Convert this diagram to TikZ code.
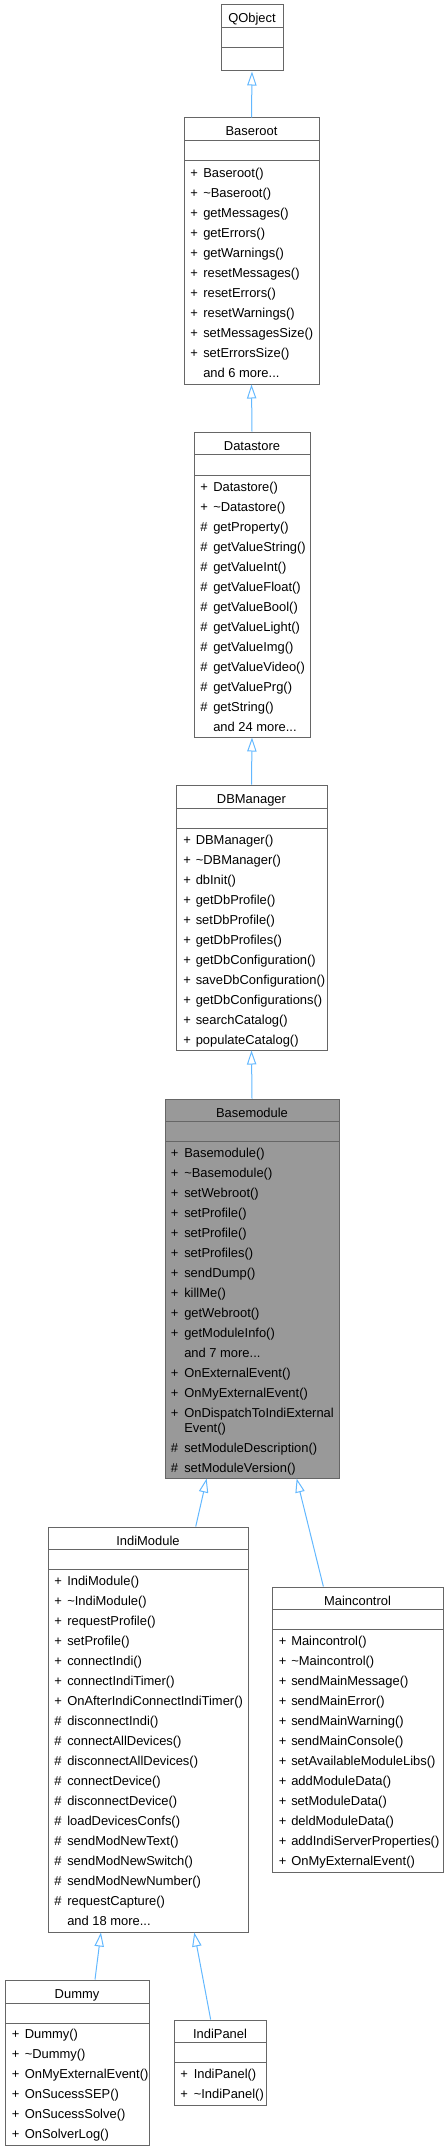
\documentclass[tikz,border=0pt]{standalone}
\usepackage{fontspec}
\setmainfont{Liberation Sans}
\usepackage{tikz}
\usetikzlibrary{fit,arrows.meta}

\definecolor{boxgray}{HTML}{666666}
\definecolor{basegray}{HTML}{999999}
\definecolor{arrowblue}{HTML}{63B8FF}
\newcommand{\andmore}[1]{and #1 more...}

\begin{document}
\begin{tikzpicture}[x=0.75pt, y=-0.75pt,
    font=\fontsize{9.7}{11.6}\selectfont,
    classbox/.style={draw=boxgray, line width=0.75pt, fill=white, inner sep=0pt},
    basebox/.style={classbox, fill=basegray},
    sepline/.style={draw=boxgray, line width=0.75pt},
    classtitle/.style={anchor=base, inner sep=0pt},
    membertext/.style={anchor=base west, inner sep=0pt},
    inherit/.style={draw=arrowblue, line width=0.75pt,
                    -{Triangle[open, length=10.5pt, width=7pt]}}]

  \useasboundingbox (0,0) rectangle (448,2151);

  %--- QObject
  \node[classbox, fit={(221,5) (283,71)}] (qobject) {};
  \draw[sepline] (221,28) -- (283,28);
  \draw[sepline] (221,48) -- (283,48);
  \node[classtitle] (qobject-t) at (252,23) {QObject};

  %--- Baseroot
  \node[classbox, fit={(184,118) (319,384)}] (baseroot) {};
  \draw[sepline] (184,141) -- (319,141);
  \draw[sepline] (184,161) -- (319,161);
  \node[classtitle] (baseroot-t) at (251.5,136) {Baseroot};
  \foreach \s/\m [count=\i from 0] in {+/Baseroot(), +/\textasciitilde Baseroot(),
      +/getMessages(), +/getErrors(), +/getWarnings(), +/resetMessages(),
      +/resetErrors(), +/resetWarnings(), +/setMessagesSize(), +/setErrorsSize(),
      {}/\andmore{6}} {
    \node[membertext] (baseroot-s\i) at (190,{177.5+20*\i}) {\s};
    \node[membertext] (baseroot-m\i) at (203,{177.5+20*\i}) {\m};
  }

  %--- Datastore
  \node[classbox, fit={(194,432) (310,737)}] (datastore) {};
  \draw[sepline] (194,454) -- (310,454);
  \draw[sepline] (194,475) -- (310,475);
  \node[classtitle] (datastore-t) at (252,450) {Datastore};
  \foreach \s/\m [count=\i from 0] in {+/Datastore(), +/\textasciitilde Datastore(),
      \#/getProperty(), \#/getValueString(), \#/getValueInt(), \#/getValueFloat(),
      \#/getValueBool(), \#/getValueLight(), \#/getValueImg(), \#/getValueVideo(),
      \#/getValuePrg(), \#/getString(), {}/\andmore{24}} {
    \node[membertext] (datastore-s\i) at (200,{491+20*\i}) {\s};
    \node[membertext] (datastore-m\i) at (213,{491+20*\i}) {\m};
  }

  %--- DBManager
  \node[classbox, fit={(176,785) (327,1050)}] (dbmanager) {};
  \draw[sepline] (176,808) -- (327,808);
  \draw[sepline] (176,828) -- (327,828);
  \node[classtitle] (dbmanager-t) at (251.5,803) {DBManager};
  \foreach \s/\m [count=\i from 0] in {+/DBManager(), +/\textasciitilde DBManager(),
      +/dbInit(), +/getDbProfile(), +/setDbProfile(), +/getDbProfiles(),
      +/getDbConfiguration(), +/saveDbConfiguration(), +/getDbConfigurations(),
      +/searchCatalog(), +/populateCatalog()} {
    \node[membertext] (dbmanager-s\i) at (183,{844+20*\i}) {\s};
    \node[membertext] (dbmanager-m\i) at (195.5,{844+20*\i}) {\m};
  }

  %--- Basemodule (the class itself)
  \node[basebox, fit={(165,1099) (339,1478)}] (basemodule) {};
  \draw[sepline] (165,1121) -- (339,1121);
  \draw[sepline] (165,1141) -- (339,1141);
  \node[classtitle] (basemodule-t) at (252,1117) {Basemodule};
  \foreach \s/\m [count=\i from 0] in {+/Basemodule(), +/\textasciitilde Basemodule(),
      +/setWebroot(), +/setProfile(), +/setProfile(), +/setProfiles(),
      +/sendDump(), +/killMe(), +/getWebroot(), +/getModuleInfo(),
      {}/\andmore{7}, +/OnExternalEvent(), +/OnMyExternalEvent(),
      +/OnDispatchToIndiExternal} {
    \node[membertext] (basemodule-s\i) at (170.5,{1157.5+20*\i}) {\s};
    \node[membertext] (basemodule-m\i) at (184,{1157.5+20*\i}) {\m};
  }
  \node[membertext] (basemodule-m13b) at (184,1432.5) {Event()};
  \foreach \m [count=\i from 0] in {setModuleDescription(), setModuleVersion()} {
    \node[membertext] (basemodule-p\i) at (170.5,{1452+20*\i}) {\#};
    \node[membertext] (basemodule-q\i) at (184,{1452+20*\i}) {\m};
  }

  %--- IndiModule
  \node[classbox, fit={(48,1527) (248,1932)}] (indimodule) {};
  \draw[sepline] (48,1549) -- (248,1549);
  \draw[sepline] (48,1569) -- (248,1569);
  \node[classtitle] (indimodule-t) at (148,1545) {IndiModule};
  \foreach \s/\m [count=\i from 0] in {+/IndiModule(), +/\textasciitilde IndiModule(),
      +/requestProfile(), +/setProfile(), +/connectIndi(), +/connectIndiTimer(),
      +/OnAfterIndiConnectIndiTimer(), \#/disconnectIndi(), \#/connectAllDevices(),
      \#/disconnectAllDevices(), \#/connectDevice(), \#/disconnectDevice(),
      \#/loadDevicesConfs(), \#/sendModNewText(), \#/sendModNewSwitch(),
      \#/sendModNewNumber(), \#/requestCapture(), {}/\andmore{18}} {
    \node[membertext] (indimodule-s\i) at (54,{1585+20*\i}) {\s};
    \node[membertext] (indimodule-m\i) at (67,{1585+20*\i}) {\m};
  }

  %--- Maincontrol
  \node[classbox, fit={(272,1587) (443,1872)}] (maincontrol) {};
  \draw[sepline] (272,1609) -- (443,1609);
  \draw[sepline] (272,1629) -- (443,1629);
  \node[classtitle] (maincontrol-t) at (357.5,1605) {Maincontrol};
  \foreach \s/\m [count=\i from 0] in {+/Maincontrol(), +/\textasciitilde Maincontrol(),
      +/sendMainMessage(), +/sendMainError(), +/sendMainWarning(),
      +/sendMainConsole(), +/setAvailableModuleLibs(), +/addModuleData(),
      +/setModuleData(), +/deldModuleData(), +/addIndiServerProperties(),
      +/OnMyExternalEvent()} {
    \node[membertext] (maincontrol-s\i) at (278.5,{1645+20*\i}) {\s};
    \node[membertext] (maincontrol-m\i) at (291,{1645+20*\i}) {\m};
  }

  %--- Dummy
  \node[classbox, fit={(5,1980) (149,2145)}] (dummy) {};
  \draw[sepline] (5,2003) -- (149,2003);
  \draw[sepline] (5,2023) -- (149,2023);
  \node[classtitle] (dummy-t) at (77,1998) {Dummy};
  \foreach \s/\m [count=\i from 0] in {+/Dummy(), +/\textasciitilde Dummy(),
      +/OnMyExternalEvent(), +/OnSucessSEP(), +/OnSucessSolve(), +/OnSolverLog()} {
    \node[membertext] (dummy-s\i) at (11.5,{2038.5+20*\i}) {\s};
    \node[membertext] (dummy-m\i) at (24.5,{2038.5+20*\i}) {\m};
  }

  %--- IndiPanel
  \node[classbox, fit={(174,2020) (266,2105)}] (indipanel) {};
  \draw[sepline] (174,2042) -- (266,2042);
  \draw[sepline] (174,2062) -- (266,2062);
  \node[classtitle] (indipanel-t) at (220,2038) {IndiPanel};
  \foreach \s/\m [count=\i from 0] in {+/IndiPanel(), +/\textasciitilde IndiPanel()} {
    \node[membertext] (indipanel-s\i) at (180,{2078.5+20*\i}) {\s};
    \node[membertext] (indipanel-m\i) at (193.5,{2078.5+20*\i}) {\m};
  }

  %--- Inheritance arrows
  \draw[inherit] (baseroot.north) -- (qobject.south);
  \draw[inherit] (datastore.north) -- (baseroot.south);
  \draw[inherit] (dbmanager.north) -- (datastore.south);
  \draw[inherit] (basemodule.north) -- (dbmanager.south);
  \draw[inherit] ([xshift=35.8pt]indimodule.north) -- ([xshift=-34pt]basemodule.south);
  \draw[inherit] ([xshift=-25.6pt]maincontrol.north) -- ([xshift=33.5pt]basemodule.south);
  \draw[inherit] ([xshift=13.5pt]dummy.north) -- ([xshift=-35.3pt]indimodule.south);
  \draw[inherit] ([xshift=-7pt]indipanel.north) -- ([xshift=34.7pt]indimodule.south);

\end{tikzpicture}
\end{document}
